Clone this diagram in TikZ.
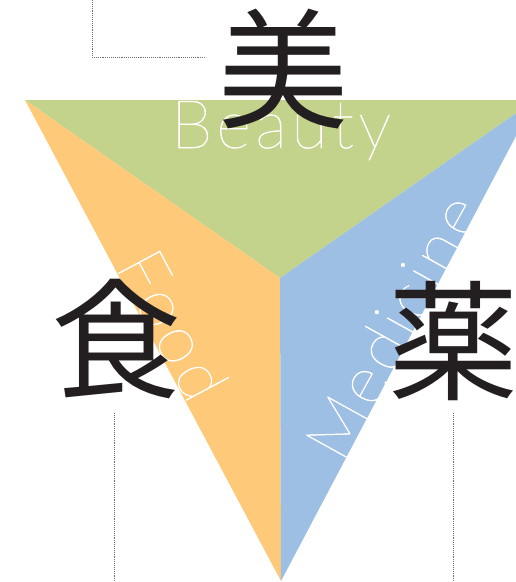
\documentclass[tikz,border=0pt]{standalone}
\usepackage{fontspec}
\usepackage{tikz}
\usetikzlibrary{positioning,calc}
\newfontfamily\jpfont{Noto Sans CJK JP}
\newfontfamily\thinfont{Lato Thin}[LetterSpace=6.5,FakeBold=0.8]
\definecolor{ink}{HTML}{231F20}
\definecolor{leaf}{HTML}{C3D38B}
\definecolor{peach}{HTML}{FEC978}
\definecolor{sky}{HTML}{9EBFE4}
\definecolor{dots}{HTML}{6E6E6E}

\begin{document}
\begin{tikzpicture}[x=1pt,y=-1pt,
  kanji/.style={font=\jpfont\fontsize{130}{130}\selectfont,text=ink,inner sep=0pt},
  word/.style={font=\thinfont\fontsize{67}{67}\selectfont,text=white,inner sep=0pt,anchor=base},
  leader/.style={dots,line width=1pt,dash pattern=on 0.9pt off 1pt}]
  \useasboundingbox (0,0) rectangle (516,582);
  \coordinate (tl) at (25,100);
  \coordinate (tr) at (535,100);
  \coordinate (bot) at (281,581);
  \coordinate (mid) at (280,278);
  \begin{scope}
    \clip (0,0) rectangle (516,582);
    \fill[leaf] (tl) -- (tr) -- (mid) -- cycle;
    \fill[peach] (tl) -- (mid) -- (bot) -- cycle;
    \fill[sky] (tr) -- (mid) -- (bot) -- cycle;
  \end{scope}
  \node[word] (beauty) at (281,148) {Beauty};
  \node[word,rotate=-62] (food) at (152,336) {Food};
  \node[word,rotate=61] (medicine) at (414,338) {Medicine};
  \node[kanji] (bi) at (283,69) {美};
  \node[kanji] (shoku) at (116,339) {食};
  \node[kanji] (yaku) at (453,341) {薬};
  \coordinate (bitop) at (92,0);
  \coordinate (bicorner) at (92,57);
  \coordinate (biend) at (206,57);
  \coordinate (shokutop) at (114,413);
  \coordinate (shokuend) at (114,582);
  \coordinate (yakutop) at (453,413);
  \coordinate (yakuend) at (453,582);
  \draw[leader] (bitop) -- (bicorner) -- (biend);
  \draw[leader] (shokutop) -- (shokuend);
  \draw[leader] (yakutop) -- (yakuend);
\end{tikzpicture}
\end{document}
